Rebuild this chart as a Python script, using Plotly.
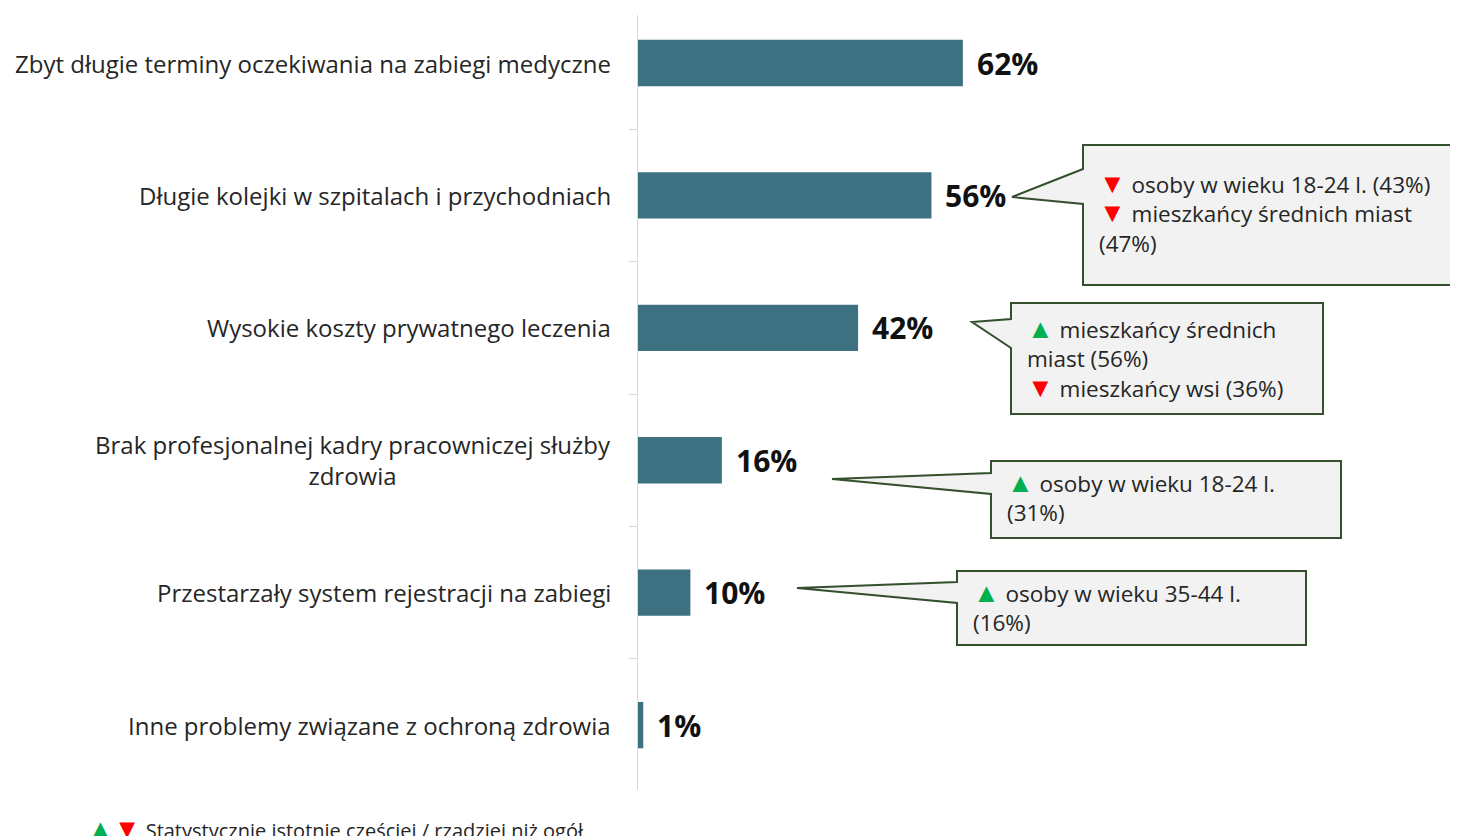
import plotly.graph_objects as go

# data
categories = [
    "Zbyt długie terminy oczekiwania na zabiegi medyczne",
    "Długie kolejki w szpitalach i przychodniach",
    "Wysokie koszty prywatnego leczenia",
    "Brak profesjonalnej kadry pracowniczej służby<br>zdrowia",
    "Przestarzały system rejestracji na zabiegi",
    "Inne problemy związane z ochroną zdrowia",
]
values = [62, 56, 42, 16, 10, 1]

UP = '<span style="color:#00b050;font-size:27px">▲</span>'
DOWN = '<span style="color:#ff0000;font-size:27px">▼</span>'
callout_texts = [
    None,
    DOWN + " osoby w wieku 18-24 l. (43%)<br>" + DOWN + " mieszkańcy średnich miast<br>(47%)",
    UP + " mieszkańcy średnich<br>miast (56%)<br>" + DOWN + " mieszkańcy wsi (36%)",
    UP + " osoby w wieku 18-24 l.<br>(31%)",
    UP + " osoby w wieku 35-44 l.<br>(16%)",
    None,
]

OFF = 8  # page body margin
W, H = 1458 - OFF, 836 - OFF
ML, MT, MB = 638 - OFF, 15 - OFF, 46
PW, PH = W - ML, H - MT - MB
SCALE = 5.24  # px per percent
FONT = "Open Sans"
BAR = "#3d7182"
BORDER = "#34502f"


def px(x):
    return (x - OFF - ML) / PW


def py(y):
    return 1 - (y - OFF - MT) / PH


fig = go.Figure(go.Bar(
    x=values,
    y=list(range(len(categories))),
    orientation="h",
    width=0.35,
    marker=dict(color=BAR, line=dict(width=0)),
    hoverinfo="skip",
))

# value labels and category labels
for i, (c, v) in enumerate(zip(categories, values)):
    fig.add_annotation(x=v, y=i, xref="x", yref="y", text="<b>%d%%</b>" % v,
                       showarrow=False, xanchor="left", xshift=12,
                       font=dict(size=30, color="#111111", family=FONT))
    fig.add_annotation(x=0, y=i, xref="x", yref="y", text=c, showarrow=False,
                       xanchor="right", xshift=-25, align="center",
                       font=dict(size=24, color="#262626", family=FONT))

# callout boxes (reference pixels): left, top, right, bottom, tip x, tip y, base y0, base y1, text pad top
boxes = {
    1: (1083, 145, 1480, 285, 1012, 197, 169, 204, 17),
    2: (1011, 303, 1323, 414, 972, 322, 319, 348, 4),
    3: (991, 461, 1341, 538, 832, 479, 473, 494, 0),
    4: (957, 571, 1306, 645, 797, 588, 582, 603, 0),
}
for i, (l, t, r, b, tx, ty, b0, b1, pad) in boxes.items():
    path = "M %f,%f L %f,%f L %f,%f L %f,%f L %f,%f L %f,%f L %f,%f Z" % (
        px(l), py(t), px(r), py(t), px(r), py(b), px(l), py(b),
        px(l), py(b1), px(tx), py(ty), px(l), py(b0))
    fig.add_shape(type="path", path=path, xref="paper", yref="paper",
                  fillcolor="#f2f2f2", line=dict(color=BORDER, width=2))
    fig.add_annotation(x=px(l + 14), y=py(t + pad), xref="paper", yref="paper",
                       text=callout_texts[i], showarrow=False, xanchor="left",
                       yanchor="top", align="left",
                       font=dict(size=22.5, color="#262626", family=FONT))

# footnote
fig.add_annotation(x=px(85), y=py(827), xref="paper", yref="paper",
                   text=UP + DOWN + " Statystycznie istotnie częściej / rzadziej niż ogół",
                   showarrow=False, xanchor="left", yanchor="middle",
                   font=dict(size=20, color="#262626", family=FONT))

fig.update_layout(
    width=W, height=H,
    margin=dict(l=ML, r=0, t=MT, b=MB),
    paper_bgcolor="white", plot_bgcolor="white",
    showlegend=False,
    xaxis=dict(range=[0, PW / SCALE], visible=False),
    yaxis=dict(range=[5.49, -0.3625], showticklabels=False, showgrid=False,
               zeroline=False, showline=True, linecolor="#d9d9d9", linewidth=1,
               tickmode="array", tickvals=[0.5, 1.5, 2.5, 3.5, 4.5],
               ticks="outside", ticklen=8, tickcolor="#d9d9d9"),
)

fig.write_html("out.html")
